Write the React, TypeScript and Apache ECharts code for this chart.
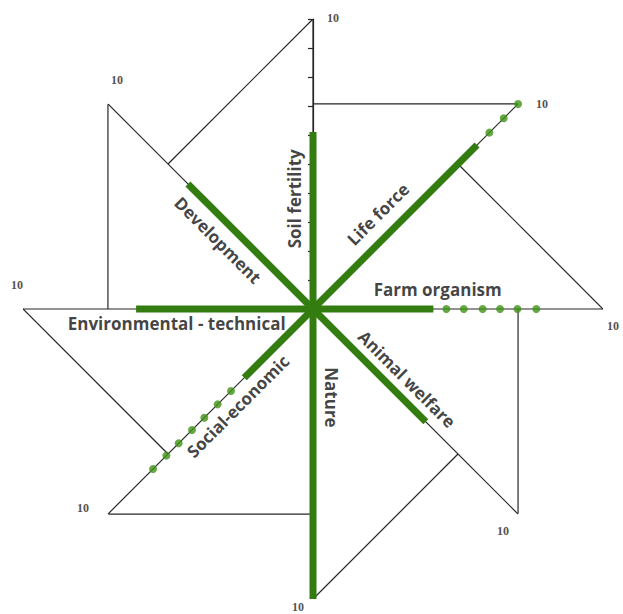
import React, { useEffect, useRef } from 'react';
import * as echarts from 'echarts';

// Axes, counterclockwise from the top
const axisNames = [
  'Soil fertility',
  'Development',
  'Environmental - technical',
  'Social-economic',
  'Nature',
  'Animal welfare',
  'Farm organism',
  'Life force',
];
const axisAngles = [0, 45, 90, 135, 180, 225, 270, 315];
const scores = [6.1, 6.1, 6.1, 3.35, 10, 5.5, 4.15, 8.0];
const axisMax = 10;
const endLabel = '10';
const lifeForceDots = [8.6, 9.3, 10];
const farmOrganismDots = [4.6, 5.2, 5.85, 6.45, 7.05, 7.7];
const socialEconomicDots = [4.0, 4.65, 5.3, 5.9, 6.55, 7.15, 7.8];

// layout (not data)
const nameRadius = [3.8, 4.0, 4.7, 4.2, 3.05, 4.0, 4.3, 3.9];
const nameRotate = [90, -45, 0, 45, -90, -45, 0, 45];
const nameScreenOffset: [number, number][] = [
  [-19, 0], [-13, 13], [0, 14], [11, 11], [18, 0], [12, -12], [0, -20], [-15, -15],
];
const endScreenOffset: [number, number][] = [
  [20, -1], [9, -24], [-6, -24], [-25, -6], [-15, 8], [-15, 17], [10, 17], [24, 0],
];

function toLocal(off: [number, number], deg: number): [number, number] {
  const t = (deg * Math.PI) / 180;
  const c = Math.cos(t), s = Math.sin(t);
  return [off[0] * c - off[1] * s, off[0] * s + off[1] * c];
}

export default function App() {
  const ref = useRef<HTMLDivElement>(null);
  useEffect(() => {
    if (!ref.current) return;
    const chart = echarts.init(ref.current, null, { renderer: 'svg' });
    const thin = { color: '#262626', width: 1.2 };
    const green = '#327c10';
    const foot = axisMax * Math.cos(Math.PI / 4);
    const series: any[] = [];
    axisAngles.forEach((a, i) => {
      const next = axisAngles[(i + 1) % axisAngles.length];
      series.push({
        type: 'line', coordinateSystem: 'polar', symbol: 'none', silent: true, z: 1,
        data: [[0, a], [axisMax, a]], lineStyle: thin,
      });
      series.push({
        type: 'line', coordinateSystem: 'polar', symbol: 'none', silent: true, z: 1,
        data: [[axisMax, a], [foot, next]], lineStyle: thin,
      });
      series.push({
        type: 'line', coordinateSystem: 'polar', symbol: 'none', silent: true, z: 3,
        data: [[0, a], [scores[i], a]], lineStyle: { color: green, width: 7, cap: 'butt' },
      });
    });
    const angOf = (n: string) => axisAngles[axisNames.indexOf(n)];
    const dots = [
      ...lifeForceDots.map((r) => [r, angOf('Life force')]),
      ...farmOrganismDots.map((r) => [r, angOf('Farm organism')]),
      ...socialEconomicDots.map((r) => [r, angOf('Social-economic')]),
    ];
    series.push({
      type: 'scatter', coordinateSystem: 'polar', symbol: 'circle', symbolSize: 8, z: 4,
      itemStyle: { color: '#3f9215' }, data: dots,
    });
    const plain = { textBorderWidth: 0, textBorderColor: 'transparent', textShadowBlur: 0 };
    series.push({
      type: 'scatter', coordinateSystem: 'polar', symbolSize: 0, z: 5, silent: true,
      itemStyle: { color: '#111' },
      data: axisNames.map((n, i) => ({
        value: [nameRadius[i], axisAngles[i]],
        label: {
          show: true, formatter: n, position: 'inside', rotate: nameRotate[i],
          offset: toLocal(nameScreenOffset[i], nameRotate[i]),
          fontFamily: 'Open Sans', fontWeight: 'bold', fontSize: 17, color: '#111',
          align: 'center', verticalAlign: 'middle', ...plain,
        },
      })),
    });
    series.push({
      type: 'scatter', coordinateSystem: 'polar', symbolSize: 0, z: 5, silent: true,
      itemStyle: { color: '#222' },
      data: axisAngles.map((a, i) => ({
        value: [axisMax, a],
        label: {
          show: true, formatter: endLabel, position: 'inside',
          offset: endScreenOffset[i],
          fontFamily: 'Liberation Serif', fontSize: 12, fontWeight: 'bold', color: '#222',
          align: 'center', verticalAlign: 'middle', ...plain,
        },
      })),
    });
    chart.setOption({
      animation: false,
      backgroundColor: '#ffffff',
      polar: { center: [313, 309], radius: 290 },
      angleAxis: {
        type: 'value', min: 0, max: 360, startAngle: 90, clockwise: false,
        axisLine: { show: false }, axisTick: { show: false }, axisLabel: { show: false },
        splitLine: { show: false },
      },
      radiusAxis: {
        type: 'value', min: 0, max: 10, interval: 1,
        axisLine: { show: true, lineStyle: thin },
        axisTick: { show: true, inside: true, length: 5, lineStyle: thin },
        axisLabel: { show: false }, splitLine: { show: false },
      },
      series,
    });
    return () => chart.dispose();
  }, []);
  return (
    <div
      ref={ref}
      style={{ position: 'absolute', left: 0, top: 0, width: 623, height: 614, background: '#fff' }}
    />
  );
}
